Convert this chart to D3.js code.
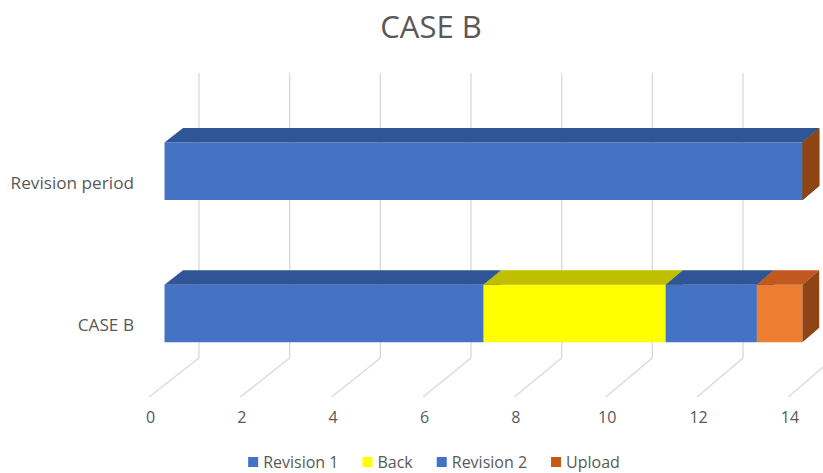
<!DOCTYPE html>
<html>
<head>
<meta charset="utf-8">
<script src="https://cdn.jsdelivr.net/npm/d3@7"></script>
<style>
  html, body { margin: 0; padding: 0; background: #fff; }
  svg text { font-family: "Open Sans", Lato, sans-serif; fill: #595959; }
</style>
</head>
<body>
<svg id="chart" width="823" height="473"></svg>
<script>
// Data (Excel order: first category sits at the bottom)
const categories = ['CASE B', 'Revision period'];
const seriesNames = ['Revision 1', 'Back', 'Revision 2', 'Upload'];
const revision1 = [7, 14];
const back = [4, 0];
const revision2 = [2, 0];
const upload = [1, 0];
const xTicks = [0, 2, 4, 6, 8, 10, 12, 14];

const seriesValues = [revision1, back, revision2, upload];

// Face colours per series: front, top, side, legend
const faceColors = [
    { front: '#4472C4', top: '#2F5597', side: '#2F5597', legend: '#4472C4' },
    { front: '#FFFF00', top: '#BFBF00', side: '#A6A600', legend: '#FFFF00' },
    { front: '#4472C4', top: '#2F5597', side: '#2F5597', legend: '#4472C4' },
    { front: '#ED7D31', top: '#C0581F', side: '#8E4513', legend: '#C55A11' }
];

const svg = d3.select('#chart');

// 3D-ish projection: front plane scale and back wall scale, depth as a 0..1 mix
const xFront = d3.scaleLinear().domain([0, 14]).range([149, 788.4]);
const xBack = d3.scaleLinear().domain([0, 14]).range([199, 833.7]);
const depthRise = 39;          // vertical shift from front plane to back wall
const barZ0 = 0.31, barZ1 = 0.68;

const yBand = d3.scaleBand()
    .domain(categories.slice().reverse())
    .range([112, 397])
    .paddingInner(0.595)
    .paddingOuter(0.3);

function proj(v, y, z) {
    return [xFront(v) + (xBack(v) - xFront(v)) * z, y - z * depthRise];
}
function poly(pts) {
    return pts.map(p => p.join(',')).join(' ');
}

const floorY = yBand.range()[1];
const wallTop = yBand.range()[0];

// Back wall gridlines
const grid = svg.append('g');
grid.selectAll('.wall')
    .data(xTicks)
    .enter().append('line')
    .attr('x1', d => proj(d, wallTop, 1)[0])
    .attr('x2', d => proj(d, floorY, 1)[0])
    .attr('y1', d => proj(d, wallTop, 1)[1])
    .attr('y2', d => proj(d, floorY, 1)[1])
    .attr('stroke', '#D9D9D9')
    .attr('stroke-width', 1.3);

// Floor lines
grid.selectAll('.floor')
    .data(xTicks)
    .enter().append('line')
    .attr('x1', d => proj(d, floorY, 1)[0])
    .attr('y1', d => proj(d, floorY, 1)[1])
    .attr('x2', d => proj(d, floorY, 0)[0])
    .attr('y2', d => proj(d, floorY, 0)[1])
    .attr('stroke', '#D9D9D9')
    .attr('stroke-width', 1.3);

// Stacked segments
const stacked = [];
categories.forEach((cat, ci) => {
    let start = 0;
    seriesValues.forEach((vals, si) => {
        const end = start + vals[ci];
        stacked.push({ cat, si, start, end });
        start = end;
    });
});

const bars = svg.append('g');
stacked.forEach(d => {
    const col = faceColors[d.si];
    // band is laid out on the front plane, faces are pushed back to bar depth
    const yT = yBand(d.cat), yB = yBand(d.cat) + yBand.bandwidth();
    const g = bars.append('g');
    // front face
    g.append('polygon')
        .attr('points', poly([proj(d.start, yT, barZ0), proj(d.end, yT, barZ0), proj(d.end, yB, barZ0), proj(d.start, yB, barZ0)]))
        .attr('fill', col.front);
    // top face
    g.append('polygon')
        .attr('points', poly([proj(d.start, yT, barZ0), proj(d.end, yT, barZ0), proj(d.end, yT, barZ1), proj(d.start, yT, barZ1)]))
        .attr('fill', col.top);
    // right side face
    g.append('polygon')
        .attr('points', poly([proj(d.end, yT, barZ0), proj(d.end, yT, barZ1), proj(d.end, yB, barZ1), proj(d.end, yB, barZ0)]))
        .attr('fill', col.side);
});

// X axis labels (front edge of floor)
const xAxis = d3.axisBottom(xFront).tickValues(xTicks).tickSize(0).tickPadding(0);
const gx = svg.append('g')
    .attr('transform', `translate(1,${floorY + 15})`)
    .call(xAxis);
gx.select('.domain').remove();
gx.selectAll('.tick text')
    .style('font-family', '"Open Sans", sans-serif')
    .style('font-size', '16px')
    .attr('fill', '#595959');

// Category labels (front plane)
const yAxis = d3.axisLeft(yBand).tickSize(0).tickPadding(0);
const gy = svg.append('g')
    .attr('transform', 'translate(134,0)')
    .call(yAxis);
gy.select('.domain').remove();
gy.selectAll('.tick text')
    .style('font-family', '"Open Sans", sans-serif')
    .style('font-size', '17.2px')
    .attr('fill', '#595959');

// Title
svg.append('text')
    .attr('x', 431)
    .attr('y', 38)
    .attr('text-anchor', 'middle')
    .style('font-size', '31px')
    .text('CASE B');

// Legend
const legend = svg.append('g');
let lx = 0;
seriesNames.forEach((name, i) => {
    const item = legend.append('g');
    item.append('rect')
        .attr('x', 0).attr('y', -5)
        .attr('width', 10).attr('height', 10)
        .attr('fill', faceColors[i].legend);
    const t = item.append('text')
        .attr('x', 15).attr('y', 6)
        .style('font-size', '16px')
        .text(name);
    const w = 15 + t.node().getComputedTextLength();
    item.attr('transform', `translate(${lx},0)`);
    lx += w + 24;
});
const legendWidth = lx - 24;
legend.attr('transform', `translate(${434 - legendWidth / 2},462)`);
</script>
</body>
</html>
